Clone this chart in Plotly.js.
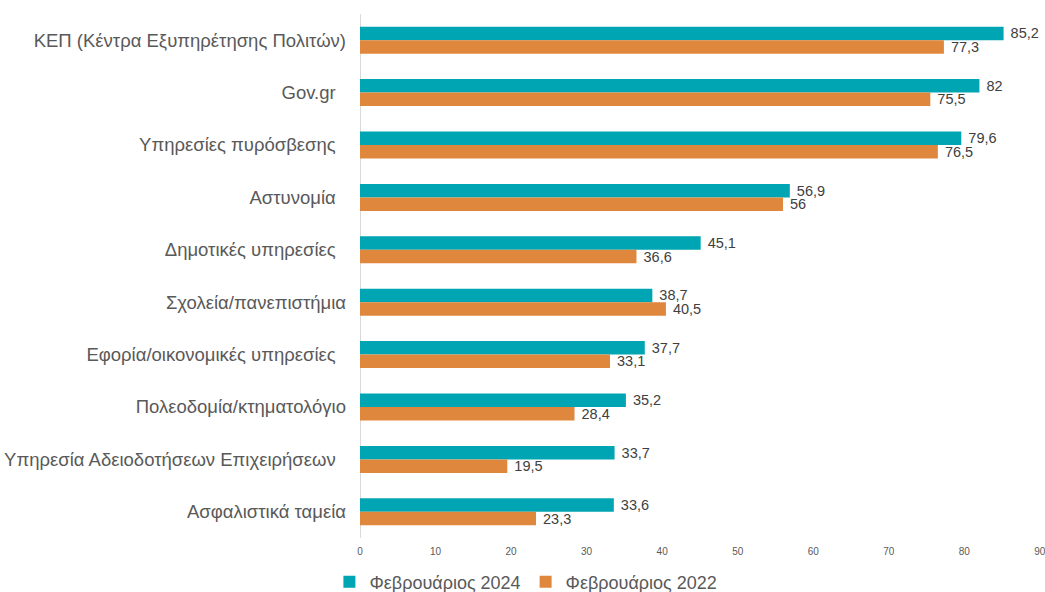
<!DOCTYPE html>
<html>
<head>
<meta charset="utf-8">
<script src="https://cdn.plot.ly/plotly-3.0.1.min.js"></script>
<style>html,body{margin:0;padding:0;background:#fff;}#chart{width:1045px;height:592px;}</style>
</head>
<body>
<div id="chart"></div>
<script>
const categories = [
  "ΚΕΠ (Κέντρα Εξυπηρέτησης Πολιτών)",
  "Gov.gr ",
  "Υπηρεσίες πυρόσβεσης ",
  "Αστυνομία ",
  "Δημοτικές υπηρεσίες ",
  "Σχολεία/πανεπιστήμια",
  "Εφορία/οικονομικές υπηρεσίες ",
  "Πολεοδομία/κτηματολόγιο",
  "Υπηρεσία Αδειοδοτήσεων Επιχειρήσεων ",
  "Ασφαλιστικά ταμεία"
];
const feb2024 = [85.2, 82, 79.6, 56.9, 45.1, 38.7, 37.7, 35.2, 33.7, 33.6];
const feb2022 = [77.3, 75.5, 76.5, 56, 36.6, 40.5, 33.1, 28.4, 19.5, 23.3];
const seriesNames = ["Φεβρουάριος 2024", "Φεβρουάριος 2022"];
const xTicks = [0, 10, 20, 30, 40, 50, 60, 70, 80, 90];

const fmt = v => '\u00a0' + String(v).replace('.', ',');
const labelFont = {family:'Arial, Liberation Sans, sans-serif', size:14.5, color:'#404040'};
const cats = categories.map(c=>c.replace(/ $/,'\u00a0\u00a0'));
const traces = [
  {type:'bar', orientation:'h', name:seriesNames[0], y:cats, x:feb2024,
   marker:{color:'#00A5B3'}, text:feb2024.map(fmt), textposition:'outside', constraintext:'none',
   textfont:labelFont, cliponaxis:false},
  {type:'bar', orientation:'h', name:seriesNames[1], y:cats, x:feb2022,
   marker:{color:'#E0873E'}, text:feb2022.map(fmt), textposition:'outside', constraintext:'none',
   textfont:labelFont, cliponaxis:false}
];
const layout = {
  width:1045, height:592,
  margin:{l:360, r:5, t:14, b:54, autoexpand:false},
  paper_bgcolor:'#ffffff', plot_bgcolor:'#ffffff',
  barmode:'group', bargap:0.485, bargroupgap:0,
  font:{family:'Arial, Liberation Sans, sans-serif', color:'#595959'},
  xaxis:{range:[0,90.02], tickmode:'array', tickvals:xTicks, ticktext:xTicks.map(String),
         showgrid:false, zeroline:true, zerolinecolor:'#d9d9d9', zerolinewidth:1,
         showline:false, ticks:'', tickfont:{size:10, color:'#595959'}, ticklabelstandoff:6,
         ticklabeloverflow:'allow', automargin:false},
  yaxis:{autorange:'reversed', showgrid:false, zeroline:false, showline:false, ticks:'',
         tickfont:{size:18.5, color:'#595959'}, ticklabelstandoff:13, automargin:false},
  showlegend:true,
  legend:{orientation:'h', x:-0.045, xanchor:'left', yref:'container', y:0.017, yanchor:'middle',
          font:{size:18, color:'#595959'}, traceorder:'normal'},
};
Plotly.newPlot('chart', traces, layout, {displayModeBar:false, staticPlot:true});
</script>
</body>
</html>
